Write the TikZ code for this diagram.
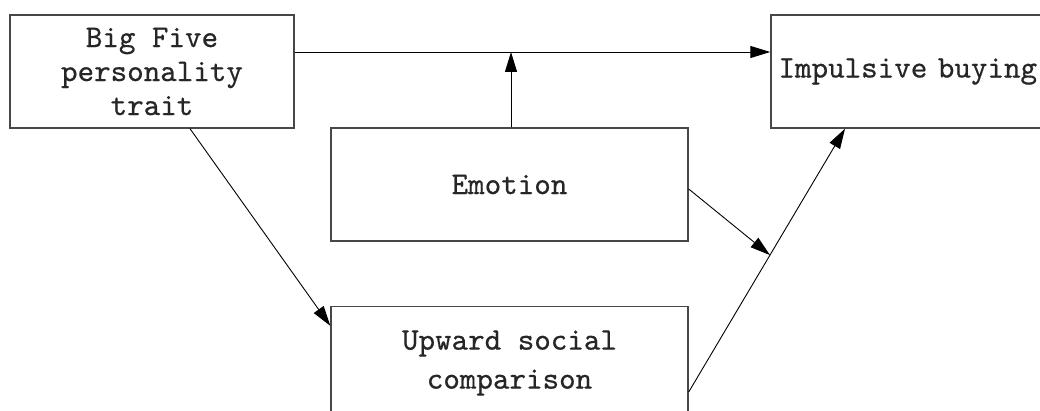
\documentclass[tikz,border=0pt]{standalone}
\usepackage{fontspec}
\newfontfamily\boxfont{lmmono10-regular.otf}[BoldFont=lmmono10-regular.otf,BoldFeatures={FakeBold=0.5}]
\usetikzlibrary{arrows.meta,calc}
\begin{document}
\begin{tikzpicture}[x=1pt,y=-1pt,
  box/.style={draw=black!72,line width=1.4pt,rectangle,inner sep=0pt,
    text=black!85,align=center,font=\boxfont\bfseries\fontsize{31.5}{34}\selectfont},
  arr/.style={draw=black,line width=0.9pt,-{Triangle[length=20pt,width=12pt]}},
  ln/.style={draw=black,line width=0.9pt}]
\clip (0,0) rectangle (1040,411);
\fill[white] (0,0) rectangle (1040,411);
\node[box,minimum width=284pt,minimum height=113pt] (big) at (152,71.5) {Big Five\\personality\\trait};
\node[box,minimum width=281pt,minimum height=113pt,text width=266pt,align=left] (imp) at (911.5,71.5) {Impulsive buying};
\node[box,minimum width=357pt,minimum height=113pt] (emo) at (509.5,184.5) {Emotion};
\node[box,minimum width=357pt,minimum height=113pt,font=\boxfont\bfseries\fontsize{31.5}{39}\selectfont] (up) at (509.5,363) {Upward social\\comparison};
\draw[arr] ([yshift=19.5pt]big.east) -- ([yshift=19.5pt]imp.west);
\coordinate (j) at (511,52);
\draw[arr] ([xshift=1.5pt]emo.north) -- ([xshift=1.5pt]emo.north |- j);
\draw[arr] ([xshift=38pt]big.south) -- ([yshift=-20pt]up.north west);
\coordinate (ua) at ([yshift=-29pt]up.east);
\coordinate (ub) at ([xshift=-66.5pt]imp.south);
\draw[arr] (ua) -- (ub);
\draw[arr] ([yshift=-4.5pt]emo.east) -- ($(ua)!0.52!(ub)$);
\end{tikzpicture}
\end{document}
